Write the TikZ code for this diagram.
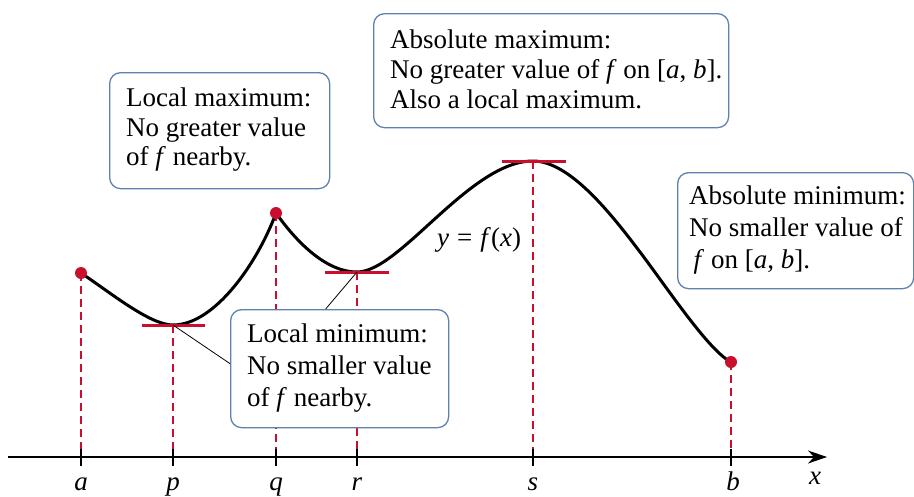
\documentclass[tikz,border=0pt]{standalone}
\usepackage{fontspec}
\setmainfont{Liberation Serif}
\usetikzlibrary{arrows.meta,calc}
\definecolor{ptred}{RGB}{200,16,46}
\definecolor{boxblue}{RGB}{95,130,172}
\begin{document}
\begin{tikzpicture}[x=1pt,y=-1pt,
  boxframe/.style={draw=boxblue, line width=1.3pt, rounded corners=11pt, fill=white, anchor=north west, inner sep=0pt},
  boxtext/.style={anchor=west, align=left, inner sep=0pt},
  guide/.style={ptred, line width=1.4pt, dash pattern=on 8pt off 5pt},
  extreme/.style={ptred, line width=3pt},
  dot/.style={circle, fill=ptred, inner sep=0pt, minimum size=12pt},
  tickmark/.style={line width=1.4pt},
  axlabel/.style={font=\fontsize{27}{30}\selectfont\itshape, anchor=base, inner sep=0pt},
  curve/.style={line width=3pt, line cap=round, line join=round},
  leader/.style={line width=0.8pt}
]
\path[use as bounding box, fill=white] (0,0) rectangle (914,496);

% key points
\coordinate (A) at (81,273);
\coordinate (P) at (173,325);
\coordinate (Q) at (276,213);
\coordinate (R) at (357,272);
\coordinate (S) at (533,161);
\coordinate (M) at (640,252);
\coordinate (B) at (731,362);

% axis
\coordinate (axL) at (8,457);
\coordinate (axR) at (827,457);
\foreach \n/\x in {ta/81,tp/173,tq/276,tr/357,ts/533,tb/731}{\coordinate (\n) at (\x,457);}

% guides
\draw[guide] (A) -- (ta);
\draw[guide] (P) -- (tp);
\draw[guide] (Q) -- (tq);
\draw[guide] (R) -- (tr);
\draw[guide] (S) -- (ts);
\draw[guide] (B) -- (tb);

\draw[line width=1.4pt, -{Stealth[length=19pt,width=13pt,inset=6pt]}] (axL) -- (axR);
\foreach \n in {ta,tp,tq,tr,ts,tb}{\draw[tickmark] ([yshift=8pt]\n) -- ([yshift=-9pt]\n);}

% curve
\draw[curve] (A) .. controls (111,293) and (150,325) .. (P)
  .. controls (215,325) and (258,262) .. (Q)
  .. controls (295,240) and (325,272) .. (R)
  .. controls (400,272) and (470,161) .. (S)
  .. controls (570,161) and (612,215) .. (M)
  .. controls (668,289) and (709,351) .. (B);

% extrema bars
\draw[extreme] ([xshift=-31pt]P) -- ([xshift=32pt]P);
\draw[extreme] ([xshift=-32pt]R) -- ([xshift=32pt]R);
\draw[extreme] ([xshift=-31pt]S) -- ([xshift=33pt]S);

\node[dot] (dA) at (A) {};
\node[dot] (dQ) at (Q) {};
\node[dot] (dB) at (B) {};

% boxes
\node[boxframe, minimum width=220pt, minimum height=116pt] (lmaxbox) at (109,72) {};
\node[boxtext, font=\fontsize{27}{29.5}\selectfont] (lmax) at ([xshift=17pt,yshift=1pt]lmaxbox.west)
  {Local maximum:\\No greater value\\of \textit{f} nearby.};

\node[boxframe, minimum width=355pt, minimum height=114pt] (amaxbox) at (373,13) {};
\node[boxtext, font=\fontsize{27}{30}\selectfont] (amax) at ([xshift=17pt,yshift=1pt]amaxbox.west)
  {Absolute maximum:\\No greater value of \textit{f} on [\textit{a}, \textit{b}].\\Also a local maximum.};

\node[boxframe, minimum width=236pt, minimum height=116pt] (aminbox) at (677,172) {};
\node[boxtext, font=\fontsize{27}{32}\selectfont] (amin) at ([xshift=12pt,yshift=1pt]aminbox.west)
  {Absolute minimum:\\No smaller value of\\\,\textit{f} on [\textit{a}, \textit{b}].};

\node[boxframe, minimum width=218pt, minimum height=118pt] (lminbox) at (230,309) {};
\node[boxtext, font=\fontsize{27}{32}\selectfont] (lmin) at ([xshift=17pt,yshift=1pt]lminbox.west)
  {Local minimum:\\No smaller value\\of \textit{f} nearby.};

% leaders
\draw[leader] (P) -- ([yshift=5pt]lminbox.west);
\draw[leader] (R) -- ([xshift=-14pt]lminbox.north);

% function label
\node[font=\fontsize{27}{30}\selectfont, inner sep=0pt] (fl) at (479,240)
  {\textit{y}\hspace{0.3em}=\hspace{0.3em}\textit{f}(\textit{x})};

% axis labels
\node[axlabel] (la) at (81,490) {a};
\node[axlabel] (lp) at (173,490) {p};
\node[axlabel] (lq) at (276,490) {q};
\node[axlabel] (lr) at (357,490) {r};
\node[axlabel] (ls) at (533,490) {s};
\node[axlabel] (lb) at (733,490) {b};
\node[axlabel] (lx) at (815,484) {x};
\end{tikzpicture}
\end{document}
